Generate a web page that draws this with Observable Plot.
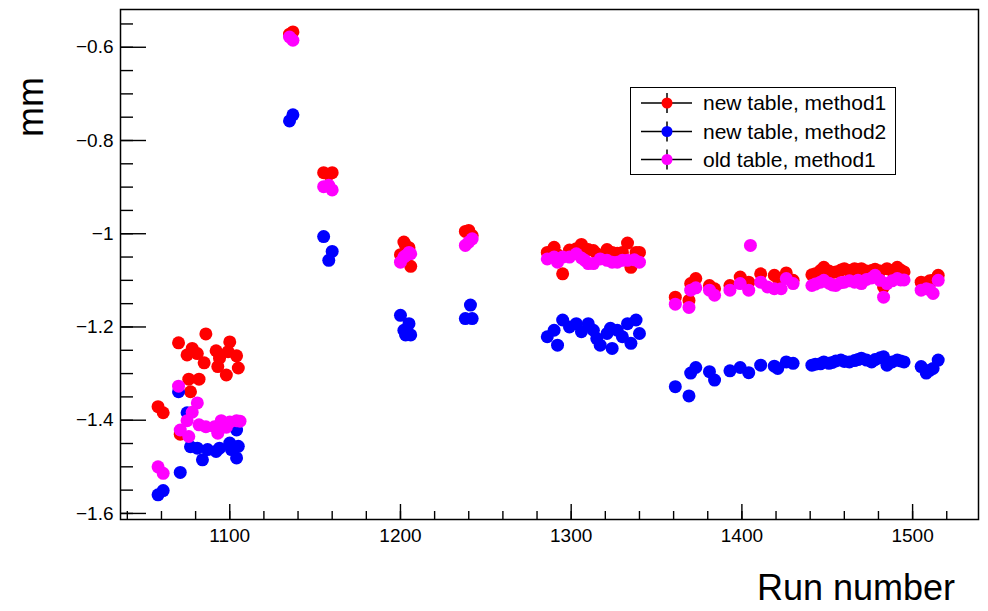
<!DOCTYPE html>
<html><head><meta charset="utf-8">
<script src="https://cdn.jsdelivr.net/npm/d3@7"></script>
<script src="https://cdn.jsdelivr.net/npm/@observablehq/plot@0.6"></script>
<style>
body{margin:0;background:#fff;font-family:"Liberation Sans",Arial,sans-serif;}
#wrap{position:relative;width:988px;height:611px;}
#legend{position:absolute;left:630px;top:87px;width:266px;height:88px;border:1.5px solid #000;background:#fff;box-sizing:border-box;}
</style></head><body><div id="wrap"></div>
<script>
// ---- data ----
const seriesNames = ["new table, method1", "new table, method2", "old table, method1"];
const seriesColors = ["#ff0000", "#0000ff", "#ff00ff"];

const runsNew1 = [1058,1061,1070,1071,1075,1076,1077,1078,1081,1082,1085,1086,1092,1093,1094,1098,1099,1100,1104,1105,
  1135,1137,1155,1158,1160,1200,1202,1203,1205,1206,1238,1240,1242,
  1286,1290,1292,1295,1299,1303,1306,1310,1313,1315,1317,1321,1323,1324,1327,1330,1333,1335,1338,1340,
  1361,1369,1370,1373,1381,1384,1393,1399,1404,1411,1419,1421,1426,1430,
  1441,1443,1446,1448,1451,1453,1455,1458,1460,1463,1466,1468,1470,1473,1476,1478,1481,1483,1485,1488,1491,1493,1495,
  1505,1508,1510,1512,1515];
const valsNew1 = [-1.371,-1.384,-1.234,-1.430,-1.260,-1.312,-1.339,-1.246,-1.257,-1.312,-1.277,-1.215,-1.251,-1.285,-1.267,-1.303,-1.253,-1.232,-1.262,-1.288,
  -0.572,-0.567,-0.869,-0.873,-0.869,-1.045,-1.018,-1.025,-1.030,-1.070,-0.995,-0.993,-1.004,
  -1.040,-1.029,-1.045,-1.086,-1.035,-1.032,-1.023,-1.034,-1.036,-1.043,-1.048,-1.034,-1.045,-1.040,-1.042,-1.040,-1.020,-1.072,-1.040,-1.040,
  -1.136,-1.143,-1.107,-1.096,-1.111,-1.118,-1.111,-1.093,-1.104,-1.086,-1.089,-1.095,-1.084,-1.100,
  -1.088,-1.086,-1.079,-1.072,-1.080,-1.083,-1.082,-1.078,-1.075,-1.079,-1.075,-1.077,-1.075,-1.080,-1.079,-1.076,-1.080,-1.114,-1.075,-1.079,-1.072,-1.078,-1.082,
  -1.104,-1.106,-1.101,-1.100,-1.089];

const runsNew2 = [1058,1061,1070,1071,1075,1077,1081,1084,1087,1092,1094,1100,1101,1104,1104,1105,
  1135,1137,1155,1158,1160,1200,1202,1203,1205,1206,1238,1241,1242,
  1286,1290,1292,1295,1299,1303,1306,1310,1313,1315,1317,1321,1323,1324,1327,1330,1333,1335,1338,1340,
  1361,1369,1370,1373,1381,1384,1393,1399,1404,1411,1419,1421,1426,1430,
  1441,1443,1446,1448,1451,1453,1455,1458,1460,1463,1466,1468,1470,1473,1476,1478,1481,1483,1485,1488,1491,1493,1495,
  1505,1508,1510,1512,1515];
const valsNew2 = [-1.560,-1.551,-1.339,-1.512,-1.384,-1.457,-1.460,-1.485,-1.463,-1.467,-1.460,-1.449,-1.463,-1.481,-1.421,-1.456,
  -0.758,-0.745,-1.006,-1.057,-1.038,-1.175,-1.207,-1.217,-1.193,-1.217,-1.182,-1.153,-1.182,
  -1.221,-1.207,-1.239,-1.185,-1.200,-1.193,-1.210,-1.193,-1.207,-1.225,-1.239,-1.214,-1.203,-1.246,-1.207,-1.221,-1.193,-1.235,-1.185,-1.214,
  -1.328,-1.348,-1.299,-1.287,-1.296,-1.314,-1.294,-1.287,-1.298,-1.282,-1.284,-1.289,-1.275,-1.278,
  -1.282,-1.280,-1.279,-1.275,-1.278,-1.276,-1.273,-1.271,-1.274,-1.275,-1.272,-1.270,-1.267,-1.271,-1.275,-1.270,-1.266,-1.264,-1.282,-1.275,-1.271,-1.273,-1.275,
  -1.285,-1.299,-1.293,-1.289,-1.271];

const runsOld1 = [1058,1061,1070,1071,1075,1076,1078,1081,1082,1086,1091,1093,1095,1098,1100,1104,1106,
  1135,1137,1155,1158,1160,1200,1202,1203,1205,1206,1238,1240,1242,
  1286,1290,1292,1295,1299,1303,1306,1308,1310,1313,1317,1321,1324,1327,1330,1333,1337,1340,
  1361,1369,1370,1373,1381,1384,1393,1399,1404,1405,1411,1415,1419,1423,1426,1430,
  1441,1443,1446,1448,1451,1453,1455,1458,1460,1463,1466,1468,1470,1473,1476,1478,1481,1483,1485,1488,1491,1493,1495,
  1505,1508,1510,1512,1515];
const valsOld1 = [-1.500,-1.514,-1.327,-1.421,-1.401,-1.435,-1.383,-1.363,-1.410,-1.414,-1.414,-1.428,-1.401,-1.415,-1.404,-1.401,-1.402,
  -0.578,-0.585,-0.899,-0.896,-0.906,-1.061,-1.050,-1.047,-1.040,-1.043,-1.025,-1.018,-1.011,
  -1.054,-1.050,-1.061,-1.050,-1.050,-1.043,-1.052,-1.057,-1.064,-1.064,-1.054,-1.057,-1.061,-1.061,-1.057,-1.057,-1.056,-1.061,
  -1.151,-1.158,-1.121,-1.116,-1.121,-1.132,-1.121,-1.107,-1.121,-1.025,-1.104,-1.114,-1.118,-1.118,-1.096,-1.107,
  -1.111,-1.108,-1.104,-1.100,-1.106,-1.110,-1.111,-1.105,-1.104,-1.101,-1.104,-1.100,-1.107,-1.098,-1.095,-1.089,-1.100,-1.136,-1.107,-1.101,-1.096,-1.099,-1.099,
  -1.121,-1.118,-1.120,-1.128,-1.100];

const xTicks = [1100, 1200, 1300, 1400, 1500];
const yTicks = [-0.6, -0.8, -1, -1.2, -1.4, -1.6];
const xTitle = "Run number";
const yTitle = "mm";

// ---- build tables ----
const toRows = (runs, vals) => runs.map((r, i) => ({run: r, value: vals[i]}));
const tables = [toRows(runsNew1, valsNew1), toRows(runsNew2, valsNew2), toRows(runsOld1, valsOld1)];

const xMinor = d3.range(1040, 1521, 20);
const yMinor = d3.range(0, 23).map(i => -1.6 + i * 0.05).filter(v => v <= -0.52);
const fmtY = d => (d < 0 ? "\u2212" : "") + Math.abs(d);

const W = 988, H = 611;
const chart = Plot.plot({
  width: W, height: H,
  marginLeft: 120, marginRight: 10, marginTop: 9, marginBottom: 92,
  style: {fontFamily: "'Liberation Sans', Arial, sans-serif", fontSize: "19px", color: "#000", background: "#fff"},
  x: {domain: [1036, 1538.6]},
  y: {domain: [-1.613, -0.519]},
  marks: [
    Plot.axisX(xMinor, {tickSize: -8, tickFormat: () => "", strokeWidth: 1.4, label: null}),
    Plot.axisX(xTicks, {tickSize: -15, tickPadding: 24, tickFormat: d => String(d), strokeWidth: 1.4, fontSize: 19, label: null}),
    Plot.axisY(yMinor, {tickSize: -13, tickFormat: () => "", strokeWidth: 1.4, label: null}),
    Plot.axisY(yTicks, {tickSize: -26, tickPadding: 33, tickFormat: fmtY, strokeWidth: 1.4, fontSize: 19, label: null}),
    ...tables.map((t, i) => Plot.dot(t, {x: "run", y: "value", fill: seriesColors[i], r: 6.5})),
    Plot.frame({stroke: "#000", strokeWidth: 1.5})
  ]
});

const wrap = document.getElementById("wrap");
wrap.appendChild(chart);

// axis titles
const svg = d3.select(chart);
svg.append("text").attr("x", 955).attr("y", 600).attr("text-anchor", "end")
  .attr("font-size", 36).attr("fill", "#000").text(xTitle);
svg.append("text").attr("transform", "translate(43,107) rotate(-90)").attr("text-anchor", "middle")
  .attr("font-size", 36).attr("fill", "#000").text(yTitle);

// legend
const leg = d3.select(wrap).append("div").attr("id", "legend");
const ls = leg.append("svg").attr("width", 263).attr("height", 85)
  .style("font-family", "'Liberation Sans', Arial, sans-serif");
const rowY = [15, 43.5, 71.5];
seriesNames.forEach((name, i) => {
  const g = ls.append("g").attr("transform", `translate(0,${rowY[i]})`);
  g.append("line").attr("x1", 10).attr("x2", 61).attr("y1", 0).attr("y2", 0).attr("stroke", "#000").attr("stroke-width", 1.5);
  g.append("line").attr("x1", 36).attr("x2", 36).attr("y1", -10).attr("y2", 10).attr("stroke", "#000").attr("stroke-width", 1.5);
  g.append("circle").attr("cx", 36).attr("cy", 0).attr("r", 5.5).attr("fill", seriesColors[i]);
  g.append("text").attr("x", 72).attr("y", 0).attr("dy", "0.35em").attr("font-size", 21).attr("fill", "#000").text(name);
});
</script>
</body></html>
